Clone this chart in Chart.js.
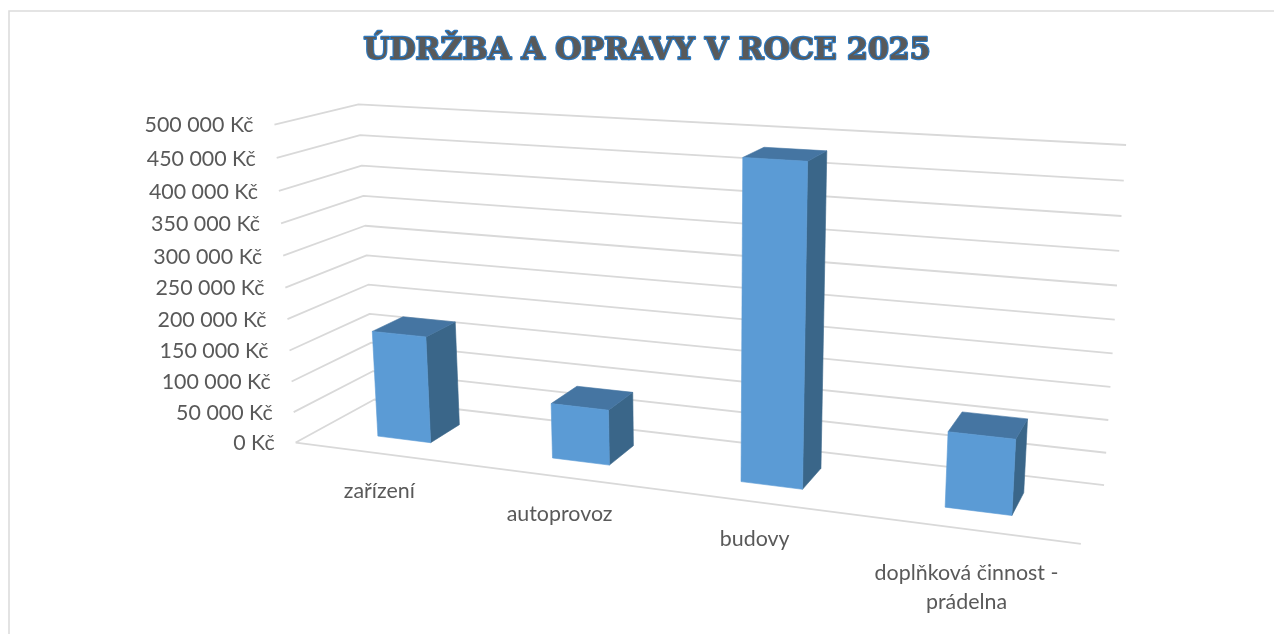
<!DOCTYPE html>
<html><head><meta charset="utf-8">
<style>html,body{margin:0;padding:0;background:#fff}canvas{display:block}</style>
<script src="https://cdn.jsdelivr.net/npm/chart.js@4"></script></head>
<body><canvas id="c" width="1274" height="634"></canvas>
<script>
const titleText = 'ÚDRŽBA A OPRAVY V ROCE 2025';
const categories = ['zařízení', 'autoprovoz', 'budovy', ['doplňková činnost -', 'prádelna']];
const values = [172000, 87000, 480000, 112000];
const valueTicks = [0, 50000, 100000, 150000, 200000, 250000, 300000, 350000, 400000, 450000, 500000];

/* Camera calibration: the plot box corners (u, v, w) seen on screen. */
const boxCorners = [
  [0,0,0, 296,442],[1,0,0, 1081,544],[1,0,1, 1104,485],[0,0,1, 374,400],
  [0,1,0, 274,125],[0,1,1, 359,104],[1,1,1, 1126,145]
];
const depthFront = 0.30, depthBack = 0.70;

function solveCamera(pts){
  const n=11, A=Array.from({length:n},()=>new Array(n+1).fill(0));
  const add=(r,b)=>{for(let i=0;i<n;i++){for(let j=0;j<n;j++)A[i][j]+=r[i]*r[j];A[i][n]+=r[i]*b;}};
  for(const [X,Y,Z,sx0,sy0] of pts){
    const sx=sx0/1000, sy=sy0/1000;
    add([X,Y,Z,1,0,0,0,0,-sx*X,-sx*Y,-sx*Z],sx);
    add([0,0,0,0,X,Y,Z,1,-sy*X,-sy*Y,-sy*Z],sy);
  }
  for(let i=0;i<n;i++){A[i][i]+=1e-9;
    let m=i;for(let k=i+1;k<n;k++)if(Math.abs(A[k][i])>Math.abs(A[m][i]))m=k;
    [A[i],A[m]]=[A[m],A[i]];
    for(let k=0;k<n;k++){if(k===i)continue;const f=A[k][i]/A[i][i];for(let j=i;j<=n;j++)A[k][j]-=f*A[i][j];}
  }
  return A.map((r,i)=>r[n]/r[i]);
}
const cam = solveCamera(boxCorners);
function project(u,v,w){
  const d=cam[8]*u+cam[9]*v+cam[10]*w+1;
  return [1000*(cam[0]*u+cam[1]*v+cam[2]*w+cam[3])/d, 1000*(cam[4]*u+cam[5]*v+cam[6]*w+cam[7])/d];
}
function poly(ctx,pts,fill){
  ctx.beginPath();pts.forEach((p,i)=>i?ctx.lineTo(p[0],p[1]):ctx.moveTo(p[0],p[1]));ctx.closePath();
  ctx.fillStyle=fill;ctx.fill();ctx.strokeStyle=fill;ctx.lineWidth=0.6;ctx.stroke();
}
const labelFont='21.4px Lato', labelColor='#595959';
const perspective = {
  id:'perspective',
  beforeDraw(chart){
    const ctx=chart.ctx, t=chart.titleBlock;
    ctx.save();
    ctx.strokeStyle='#dcdcdc';ctx.lineWidth=1.6;
    ctx.beginPath();ctx.moveTo(9,634);ctx.lineTo(9,11);ctx.lineTo(1274,11);ctx.stroke();
    ctx.restore();
    ctx.save();
    const f=Chart.helpers.toFont(chart.options.plugins.title.font);
    ctx.font=f.string;
    ctx.textAlign='center';ctx.textBaseline='middle';
    ctx.strokeStyle='#3079bd';ctx.lineWidth=2.4;ctx.lineJoin='round';
    ctx.strokeText(titleText,t.left+t.width/2,t.top+chart.options.plugins.title.padding.top+f.lineHeight/2);
    ctx.restore();
  },
  beforeDatasetsDraw(chart){
    const ctx=chart.ctx, ys=chart.scales.y, xs=chart.scales.x;
    const vOf=val=>(ys.bottom-ys.getPixelForValue(val))/ys.height;
    ctx.save();
    ctx.strokeStyle='#d9d9d9';ctx.lineWidth=1.8;ctx.lineJoin='round';
    ys.ticks.forEach(t=>{
      const v=vOf(t.value),a=project(0,v,0),b=project(0,v,1),c=project(1,v,1);
      ctx.beginPath();ctx.moveTo(a[0],a[1]);ctx.lineTo(b[0],b[1]);ctx.lineTo(c[0],c[1]);ctx.stroke();
      ctx.font=labelFont;ctx.fillStyle=labelColor;ctx.textAlign='right';ctx.textBaseline='middle';
      ctx.fillText(t.label,a[0]-21,a[1]+1);
    });
    const f0=project(0,0,0),f1=project(1,0,0);
    ctx.beginPath();ctx.moveTo(f0[0],f0[1]);ctx.lineTo(f1[0],f1[1]);ctx.stroke();
    ctx.font=labelFont;ctx.fillStyle=labelColor;ctx.textAlign='center';ctx.textBaseline='middle';
    xs.ticks.forEach((t,i)=>{
      const u=(xs.getPixelForTick(i)-xs.left)/xs.width,p=project(u,0,0);
      const lines=[].concat(t.label);
      lines.forEach((s,k)=>ctx.fillText(s,p[0]-1.5,p[1]+37.5+(lines.length-1)*6.5+k*29));
    });
    ctx.restore();
  },
  beforeDatasetDraw(chart,args){
    const ctx=chart.ctx, ys=chart.scales.y, xs=chart.scales.x;
    ctx.save();
    args.meta.data.forEach(el=>{
      const u0=(el.x-el.width/2-xs.left)/xs.width,u1=(el.x+el.width/2-xs.left)/xs.width;
      const vb=(ys.bottom-el.base)/ys.height,vt=(ys.bottom-el.y)/ys.height;
      const P=(u,v,w)=>project(u,v,w);
      poly(ctx,[P(u1,vb,depthFront),P(u1,vb,depthBack),P(u1,vt,depthBack),P(u1,vt,depthFront)],'#3a6689');
      poly(ctx,[P(u0,vt,depthFront),P(u1,vt,depthFront),P(u1,vt,depthBack),P(u0,vt,depthBack)],'#4575a2');
      poly(ctx,[P(u0,vb,depthFront),P(u1,vb,depthFront),P(u1,vt,depthFront),P(u0,vt,depthFront)],'#5b9bd5');
    });
    ctx.restore();
    return false;
  }
};
new Chart(document.getElementById('c'),{
  type:'bar',
  data:{labels:categories,datasets:[{label:'Údržba a opravy',data:values,backgroundColor:'#5b9bd5',barPercentage:0.31,categoryPercentage:1}]},
  plugins:[perspective],
  options:{
    responsive:false,animation:false,
    layout:{padding:{left:20,top:0,right:0,bottom:0}},
    plugins:{
      legend:{display:false},tooltip:{enabled:false},
      title:{display:true,text:titleText,color:'#595959',font:{family:'"DejaVu Serif"',size:30,weight:'bold',lineHeight:1.2},padding:{top:33,bottom:10}}
    },
    scales:{
      x:{ticks:{display:false},grid:{display:false},border:{display:false}},
      y:{min:0,max:500000,afterBuildTicks(s){s.ticks=valueTicks.map(value=>({value}));},
         ticks:{display:false,callback:v=>String(v).replace(/\B(?=(\d{3})+$)/g,' ')+' Kč'},
         grid:{display:false},border:{display:false}}
    }
  }
});
</script></body></html>
